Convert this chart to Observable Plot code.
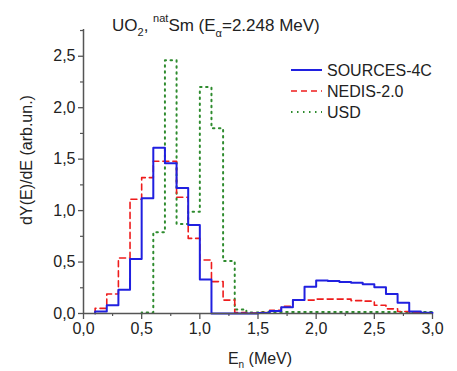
<!DOCTYPE html>
<html><head><meta charset="utf-8">
<script src="https://cdn.jsdelivr.net/npm/d3@7"></script>
<script src="https://cdn.jsdelivr.net/npm/@observablehq/plot@0.6"></script>
<style>body{margin:0;background:#fff}</style>
</head><body><div id="chart"></div>
<script>
// Bin edges of the neutron-energy histograms (MeV)
const binEdges = [0.1,0.2,0.3,0.4,0.5,0.6,0.7,0.8,0.9,1.0,1.1,1.2,1.3,1.4,1.5,1.6,1.7,1.8,1.9,2.0,2.1,2.2,2.3,2.4,2.5,2.6,2.7,2.8,2.9,3.0];
// Values per bin (29 bins starting at 0.1 MeV); null = not drawn
const sources4c = [0.02,0.08,0.23,0.53,1.12,1.61,1.46,1.22,0.86,0.33,0,0,0,0,0.006,0.025,0.06,0.13,0.26,0.32,0.315,0.305,0.30,0.285,0.255,0.19,0.105,0.02,0.008];
const nedis =     [0.05,0.19,0.54,1.11,1.32,1.48,1.48,1.13,0.73,0.52,0.31,0.13,0.01,0.005,0.01,0.03,0.07,0.13,0.13,0.14,0.14,0.14,0.125,0.12,0.08,0.045,0.02,0.01,0.005];
const usd =       [null,null,null,null,0.01,0.79,2.46,0.87,0.99,2.20,1.80,0.51,0.04,0.01,0.015,0.015,0.015,0.015,0.015,0.015,0.015,0.015,0.015,0.015,0.015,0.015,0.015,0.015,0.015];
const seriesNames = ["SOURCES-4C","NEDIS-2.0","USD"];
const seriesColors = ["#2020e0","#ee1c1c","#2e8b2e"];
const seriesDash = [null,"6,4","1.5,4.5"];
const seriesWidth = [2,1.6,2];
const xTicks = [0,0.5,1.0,1.5,2.0,2.5,3.0];
const xMinor = [0.25,0.75,1.25,1.75,2.25,2.75];
const yTicks = [0,0.5,1.0,1.5,2.0,2.5];
const yMinor = [0.25,0.75,1.25,1.75,2.25,2.75];

const fmt = d => d.toFixed(1).replace(".", ",");

function toSteps(vals){
  const pts = [];
  let started = false;
  vals.forEach((v,i)=>{
    if (v == null) return;
    if (!started){ pts.push({x: binEdges[i], y: 0}); started = true; }
    pts.push({x: binEdges[i], y: v});
  });
  const last = vals[vals.length-1];
  pts.push({x: binEdges[binEdges.length-1], y: last});
  return pts;
}
const allSeries = [sources4c, nedis, usd];

const axisColor = "#555";
const plot = Plot.plot({
  width: 457, height: 371,
  marginLeft: 83, marginRight: 25, marginTop: 29, marginBottom: 58,
  style: {fontFamily: "'Liberation Sans', Arial, sans-serif", fontSize: "16px", color: "#222", background: "#fff"},
  x: {domain: [0, 3.0], label: null},
  y: {domain: [0, 2.76], label: null},
  marks: [
    Plot.axisX({ticks: xTicks, tickFormat: fmt, tickSize: 6, tickPadding: 3, stroke: axisColor, strokeWidth: 1.3}),
    Plot.axisX({ticks: xMinor, tickFormat: () => "", tickSize: 3, stroke: axisColor, strokeWidth: 1.2}),
    Plot.axisY({ticks: yTicks, tickFormat: fmt, tickSize: 5, tickPadding: 3, stroke: axisColor, strokeWidth: 1.3}),
    Plot.axisY({ticks: yMinor, tickFormat: () => "", tickSize: 3, stroke: axisColor, strokeWidth: 1.2}),
    ...allSeries.slice().reverse().map((vals, k) => {
      const i = allSeries.length - 1 - k;
      return Plot.line(toSteps(vals), {x: "x", y: "y", curve: "step-after", stroke: seriesColors[i], strokeWidth: seriesWidth[i], strokeDasharray: seriesDash[i]});
    }),
    Plot.ruleX([0], {stroke: axisColor, strokeWidth: 1.5}),
    Plot.ruleY([0], {stroke: axisColor, strokeWidth: 1.5})
  ]
});
document.getElementById("chart").appendChild(plot);

const svg = d3.select(plot);
const ff = "'Liberation Sans', Arial, sans-serif";
// Title
const t = svg.append("text").attr("x", 112).attr("y", 31).attr("text-anchor", "start")
  .attr("font-family", ff).attr("font-size", 17).attr("fill", "#222");
t.append("tspan").text("UO");
t.append("tspan").attr("font-size", 11).attr("dy", 5).text("2");
t.append("tspan").attr("dy", -5).text(", ");
t.append("tspan").attr("font-size", 11).attr("dy", -9).text("nat");
t.append("tspan").attr("dy", 9).text("Sm (E");
t.append("tspan").attr("font-size", 11).attr("dy", 6).text("α");
t.append("tspan").attr("dy", -6).text("=2.248 MeV)");

// Legend
const legY = [70, 91, 112];
seriesNames.forEach((name, i) => {
  svg.append("line").attr("x1", 291).attr("x2", 322).attr("y1", legY[i]).attr("y2", legY[i])
    .attr("stroke", seriesColors[i]).attr("stroke-width", seriesWidth[i])
    .attr("stroke-dasharray", seriesDash[i]);
  svg.append("text").attr("x", 327).attr("y", legY[i] + 6).attr("text-anchor", "start").attr("font-family", ff)
    .attr("font-size", 16).attr("fill", "#222").text(name);
});

// Axis labels
const xl = svg.append("text").attr("x", 260).attr("y", 364).attr("text-anchor", "middle")
  .attr("font-family", ff).attr("font-size", 16).attr("fill", "#222");
xl.append("tspan").text("E");
xl.append("tspan").attr("font-size", 10).attr("dy", 4).text("n");
xl.append("tspan").attr("dy", -4).text(" (MeV)");

svg.append("text").attr("transform", "translate(32,160) rotate(-90)").attr("text-anchor", "middle")
  .attr("font-family", ff).attr("font-size", 16).attr("fill", "#222").text("dY(E)/dE (arb.un.)");
</script>
</body></html>
